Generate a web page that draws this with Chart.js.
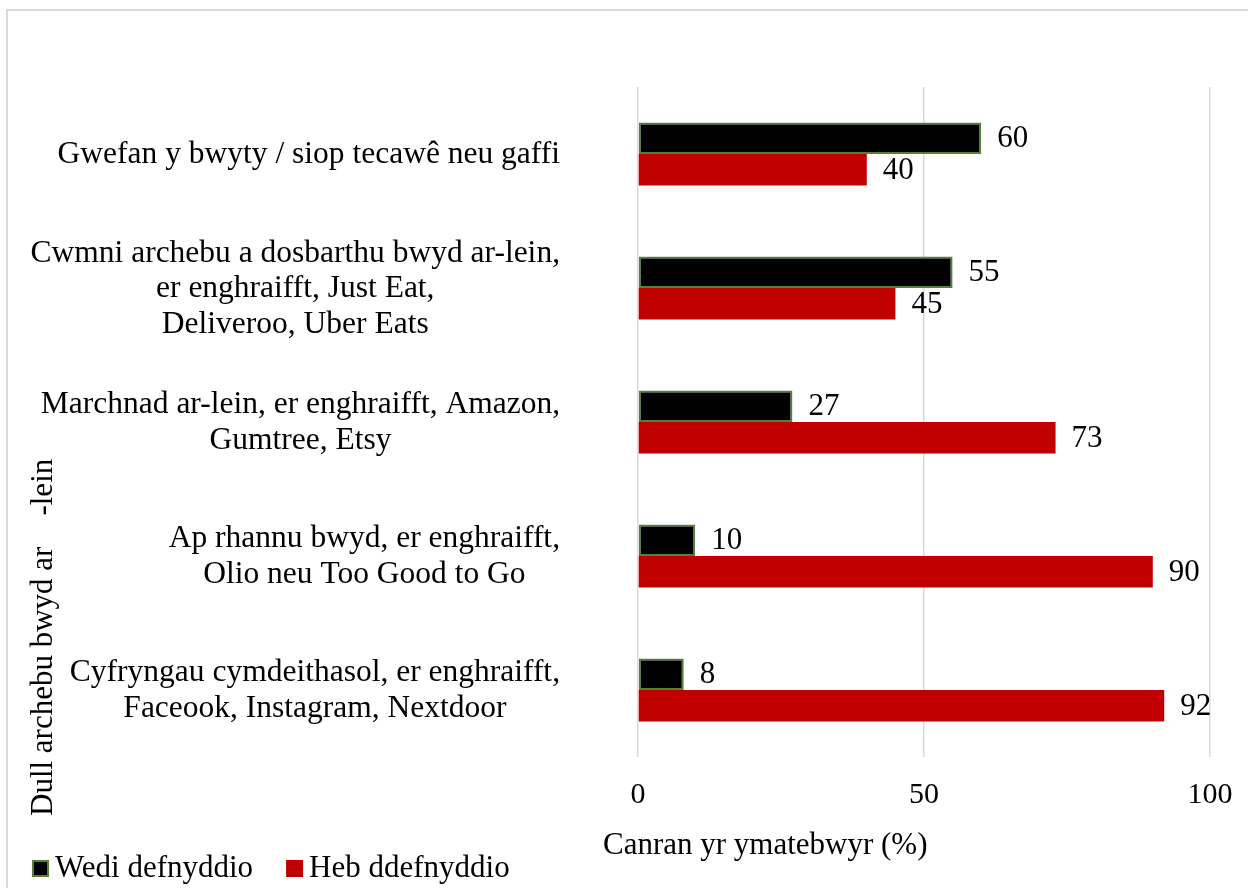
<!DOCTYPE html>
<html>
<head>
<meta charset="utf-8">
<script src="https://cdn.jsdelivr.net/npm/chart.js@4/dist/chart.umd.min.js"></script>
<style>
  html, body { margin: 0; padding: 0; background: #fff; }
  canvas { display: block; }
</style>
</head>
<body>
<canvas id="chart" width="1248" height="888"></canvas>
<script>
// categories (one array of lines per label) and the two series
var categories = [
  ["Gwefan y bwyty / siop tecawê neu gaffi"],
  ["Cwmni archebu a dosbarthu bwyd ar-lein,", "er enghraifft, Just Eat,", "Deliveroo, Uber Eats"],
  ["Marchnad ar-lein, er enghraifft, Amazon,", "Gumtree, Etsy"],
  ["Ap rhannu bwyd, er enghraifft,", "Olio neu Too Good to Go"],
  ["Cyfryngau cymdeithasol, er enghraifft,", "Faceook, Instagram, Nextdoor"]
];
var usedValues = [60, 55, 27, 10, 8];
var notUsedValues = [40, 45, 73, 90, 92];
var seriesNames = ["Wedi defnyddio", "Heb ddefnyddio"];
var xTitle = "Canran yr ymatebwyr (%)";
var yTitle = "Dull archebu bwyd ar    -lein";

var SERIF = '"Liberation Serif", "Times New Roman", serif';

// white page with the light grey frame
var framePlugin = {
  id: 'frame',
  beforeDraw: function(chart) {
    var ctx = chart.ctx;
    ctx.save();
    ctx.fillStyle = '#fff';
    ctx.fillRect(0, 0, chart.width, chart.height);
    ctx.strokeStyle = '#d9d9d9';
    ctx.lineWidth = 2;
    ctx.strokeRect(7, 10, chart.width + 20, chart.height + 20);
    ctx.restore();
  }
};

// value next to the end of every bar
var valueLabels = {
  id: 'valueLabels',
  afterDatasetsDraw: function(chart) {
    var ctx = chart.ctx;
    ctx.save();
    ctx.font = '31px ' + SERIF;
    ctx.fillStyle = '#000';
    ctx.textAlign = 'left';
    ctx.textBaseline = 'middle';
    chart.data.datasets.forEach(function(ds, i) {
      chart.getDatasetMeta(i).data.forEach(function(bar, j) {
        ctx.fillText(ds.data[j], bar.x + 16, bar.y + 1);
      });
    });
    ctx.restore();
  }
};

// category labels (lines centred in a block), axis titles and legend
var annotations = {
  id: 'annotations',
  afterDraw: function(chart) {
    var ctx = chart.ctx;
    var yScale = chart.scales.y;
    var area = chart.chartArea;
    ctx.save();
    ctx.fillStyle = '#000';
    ctx.font = '31.5px ' + SERIF;
    ctx.textBaseline = 'middle';

    var rightEdge = area.left - 78;
    var lineH = 35.6;
    categories.forEach(function(lines, i) {
      var cy = yScale.getPixelForTick(i) + 1;
      var maxW = 0;
      lines.forEach(function(l) { maxW = Math.max(maxW, ctx.measureText(l).width); });
      ctx.textAlign = 'center';
      lines.forEach(function(l, k) {
        ctx.fillText(l, rightEdge - maxW / 2, cy + (k - (lines.length - 1) / 2) * lineH);
      });
    });

    // x title
    ctx.font = '31px ' + SERIF;
    ctx.textAlign = 'left';
    ctx.fillText(xTitle, area.left - 35, 846);

    // y title, rotated
    ctx.save();
    ctx.translate(44, 816);
    ctx.rotate(-Math.PI / 2);
    ctx.textAlign = 'left';
    ctx.fillText(yTitle, 0, 0);
    ctx.restore();

    // legend
    var x = 32;
    var y = 869;
    chart.data.datasets.forEach(function(ds) {
      ctx.fillStyle = ds.backgroundColor;
      ctx.fillRect(x, y - 9, 17, 17);
      if (ds.borderWidth) {
        ctx.strokeStyle = ds.borderColor;
        ctx.lineWidth = 2;
        ctx.strokeRect(x + 1, y - 8, 15, 15);
      }
      ctx.fillStyle = '#000';
      ctx.textAlign = 'left';
      ctx.fillText(ds.label, x + 23, y);
      x += 23 + ctx.measureText(ds.label).width + 33;
    });
    ctx.restore();
  }
};

var chart = new Chart(document.getElementById('chart'), {
  type: 'bar',
  data: {
    labels: categories,
    datasets: [
      {
        label: seriesNames[0],
        data: usedValues,
        backgroundColor: '#000000',
        borderColor: '#548235',
        borderWidth: 2,
        borderSkipped: false,
        categoryPercentage: 0.47,
        barPercentage: 1.0
      },
      {
        label: seriesNames[1],
        data: notUsedValues,
        backgroundColor: '#C00000',
        borderWidth: 0,
        categoryPercentage: 0.47,
        barPercentage: 1.0
      }
    ]
  },
  options: {
    indexAxis: 'y',
    responsive: false,
    animation: false,
    devicePixelRatio: 1,
    layout: { padding: { left: 8, right: 38, top: 87, bottom: 0 } },
    plugins: {
      legend: { display: false },
      tooltip: { enabled: false }
    },
    scales: {
      x: {
        min: 0,
        max: 100,
        ticks: {
          stepSize: 50,
          color: '#000',
          font: { family: SERIF, size: 30 },
          padding: 20
        },
        grid: { color: '#d9d9d9', lineWidth: 1.5, drawTicks: false },
        border: { display: false },
        afterFit: function(scale) {
          scale.height = 131;
          scale.paddingLeft = 0;
          scale.paddingRight = 0;
        }
      },
      y: {
        ticks: { display: false },
        grid: { display: false },
        border: { display: false },
        afterFit: function(scale) { scale.width = 630; }
      }
    }
  },
  plugins: [framePlugin, valueLabels, annotations]
});
</script>
</body>
</html>
